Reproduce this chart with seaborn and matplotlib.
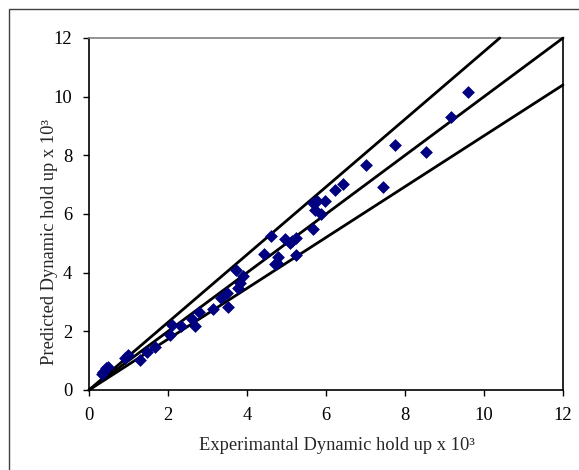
import matplotlib
matplotlib.use("Agg")
import matplotlib.pyplot as plt
import seaborn as sns
import pandas as pd
from matplotlib.patches import Rectangle

# Data
exp_holdup = [0.33, 0.36, 0.42, 0.49, 0.91, 0.98, 1.29, 1.46, 1.67, 2.05, 2.11, 2.34,
              2.60, 2.68, 2.79, 3.13, 3.33, 3.49, 3.53, 3.72, 3.78, 3.82, 3.91, 4.43,
              4.60, 4.71, 4.77, 4.79, 4.95, 5.09, 5.24, 5.13, 5.23, 5.66, 5.67, 5.72,
              5.76, 5.87, 5.97, 6.24, 6.43, 7.00, 7.44, 7.74, 8.52, 9.16, 9.59]
pred_holdup = [0.55, 0.63, 0.74, 0.80, 1.08, 1.19, 1.02, 1.31, 1.48, 1.88, 2.22, 2.18,
               2.41, 2.18, 2.66, 2.75, 3.12, 3.30, 2.84, 4.10, 3.47, 3.64, 3.89, 4.64,
               5.26, 4.30, 4.32, 4.55, 5.15, 5.00, 4.60, 5.09, 5.18, 5.50, 6.39, 6.13,
               6.44, 5.99, 6.45, 6.82, 7.03, 7.68, 6.91, 8.35, 8.11, 9.32, 10.16]

# Reference lines (parity and +/- deviation lines)
upper_x = [0, 10.4]
upper_y = [0, 12]
parity_x = [0, 12]
parity_y = [0, 12]
lower_x = [0, 12]
lower_y = [0, 10.4]

xticks = [0, 2, 4, 6, 8, 10, 12]
yticks = [0, 2, 4, 6, 8, 10, 12]

sns.set_style("white")
plt.rcParams['font.family'] = ['Liberation Serif', 'DejaVu Serif']

fig = plt.figure(figsize=(5.79, 4.70), dpi=100)
ax = fig.add_axes([89/579, 1 - 390/470, (563 - 89)/579, (390 - 38)/470])

# outer frame (only top and left visible in the reference)
fig.patches.append(Rectangle((9/579, -0.05), 1.2, 1 - 9/470 + 0.05,
                             transform=fig.transFigure, fill=False,
                             edgecolor="#404040", linewidth=1.0))

df = pd.DataFrame({"x": exp_holdup, "y": pred_holdup})
lines = [(upper_x, upper_y), (parity_x, parity_y), (lower_x, lower_y)]
for lx, ly in lines:
    ldf = pd.DataFrame({"x": lx, "y": ly})
    sns.lineplot(data=ldf, x="x", y="y", ax=ax, color="black", linewidth=2.0,
                 clip_on=False, zorder=3, solid_capstyle="round")

sns.scatterplot(data=df, x="x", y="y", ax=ax, marker="D", color="#000080",
                s=36, edgecolor="#000080", linewidth=0.5, zorder=4)

ax.set_xlim(0, 12)
ax.set_ylim(0, 12)
ax.set_xticks(xticks)
ax.set_yticks(yticks)
ax.tick_params(direction="out", length=4, width=1.0, colors="black",
               labelsize=13.3, bottom=True, left=True)
ax.tick_params(axis="x", pad=8.5)
ax.tick_params(axis="y", pad=8)
for s in ["left", "bottom"]:
    ax.spines[s].set_color("black")
    ax.spines[s].set_linewidth(1.2)
ax.spines["right"].set_color("black")
ax.spines["right"].set_linewidth(1.2)
ax.spines["top"].set_color("#808080")
ax.spines["top"].set_linewidth(1.2)

ax.set_xlabel("Experimantal Dynamic hold up x 10³", fontsize=13.3)
ax.set_ylabel("Predicted Dynamic hold up x 10³", fontsize=13.3)
# label centres as placed in the reference
ax.xaxis.set_label_coords((337 - 89) / 474, -(446 - 390) / 352)
ax.yaxis.set_label_coords(-(89 - 50) / 474, (390 - 242) / 352)
ax.xaxis.label.set_verticalalignment("center")
ax.yaxis.label.set_verticalalignment("center")

fig.savefig("out.png", dpi=100)
